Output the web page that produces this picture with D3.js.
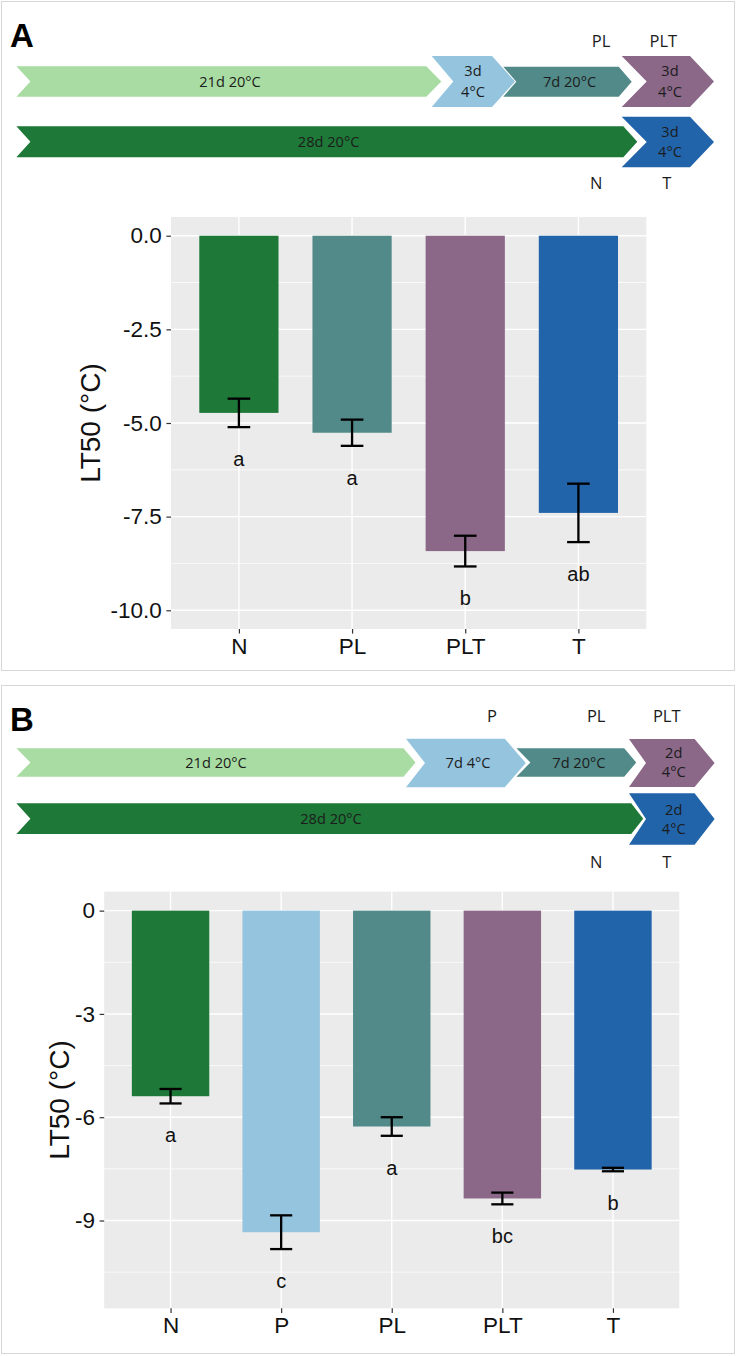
<!DOCTYPE html>
<html>
<head>
<meta charset="utf-8">
<script src="https://cdn.jsdelivr.net/npm/d3@7"></script>
<style>
  html, body { margin: 0; padding: 0; background: #fff; }
  svg { display: block; }
</style>
</head>
<body>
<svg id="fig" width="736" height="1356"></svg>
<script>
// ---- Data -----------------------------------------------------------
// Experiment A: treatments, mean LT50 (°C), standard error, group letters
const categoriesA = ["N", "PL", "PLT", "T"];
const lt50A = [-4.73, -5.26, -8.42, -7.40];
const seA = [0.38, 0.35, 0.41, 0.78];
const lettersA = ["a", "a", "b", "ab"];
const yTicksA = [0, -2.5, -5, -7.5, -10];
const yTickLabelsA = ["0.0", "-2.5", "-5.0", "-7.5", "-10.0"];
const yDomainA = [-10, 0];

// Experiment B
const categoriesB = ["N", "P", "PL", "PLT", "T"];
const lt50B = [-5.39, -9.34, -6.27, -8.36, -7.52];
const seB = [0.21, 0.49, 0.27, 0.17, 0.05];
const lettersB = ["a", "c", "a", "bc", "b"];
const yTicksB = [0, -3, -6, -9];
const yTickLabelsB = ["0", "-3", "-6", "-9"];
const yDomainB = [-11, 0];

// Treatment colours
const treatmentColor = {
  N: "#1E7837", P: "#94C4DE", PL: "#518A89", PLT: "#8B6788", T: "#2164AA"
};
const preGrowColor = "#A8DCA2";

// Timeline steps (text inside each chevron; "|" breaks a line)
const timelineA_row1 = ["21d 20°C", "3d|4°C", "7d 20°C", "3d|4°C"];
const timelineA_row2 = ["28d 20°C", "3d|4°C"];
const timelineB_row1 = ["21d 20°C", "7d 4°C", "7d 20°C", "2d|4°C"];
const timelineB_row2 = ["28d 20°C", "2d|4°C"];

// ---- Drawing --------------------------------------------------------
const svg = d3.select("#fig");
const AX_FONT = "'Liberation Sans', Arial, sans-serif";
const DIAG_FONT = "'Open Sans', 'Noto Sans', sans-serif";

// panel frames
svg.append("rect").attr("x", 1.5).attr("y", 1.5).attr("width", 733).attr("height", 669)
  .attr("fill", "none").attr("stroke", "#d6d6d6").attr("stroke-width", 1);
svg.append("rect").attr("x", 1.5).attr("y", 685.5).attr("width", 733).attr("height", 668)
  .attr("fill", "none").attr("stroke", "#d6d6d6").attr("stroke-width", 1);

function chevron(g, x0, x1, yc, h, depth, notch, fill, text, tx, ty, lineGap) {
  const t = yc - h / 2, b = yc + h / 2;
  const pts = [[x0, t], [x1 - depth, t], [x1, yc], [x1 - depth, b], [x0, b], [x0 + notch, yc]];
  g.append("path").attr("d", d3.line()(pts) + "Z").attr("fill", fill);
  const lines = text.split("|");
  const gap = lineGap || 20.5;
  lines.forEach((ln, i) => {
    g.append("text")
      .attr("x", tx)
      .attr("y", ty + (i - (lines.length - 1) / 2) * gap)
      .attr("dy", "0.35em")
      .attr("text-anchor", "middle")
      .attr("font-family", DIAG_FONT)
      .attr("font-size", 14.6)
      .attr("fill", "#1c1c1c")
      .text(ln);
  });
}

function diagLabel(g, x, y, s) {
  g.append("text").attr("x", x).attr("y", y).attr("dy", "0.35em")
    .attr("text-anchor", "middle").attr("font-family", DIAG_FONT)
    .attr("font-size", 16.5).attr("fill", "#1c1c1c").text(s);
}

function panelLetter(x, y, s) {
  svg.append("text").attr("x", x).attr("y", y)
    .attr("font-family", AX_FONT).attr("font-weight", "bold")
    .attr("font-size", 33).attr("fill", "#000").text(s);
}

// ---- Timeline A ----
const gA = svg.append("g");
panelLetter(10, 47, "A");
chevron(gA, 16.4, 441.3, 81.5, 30.7, 15, 14, preGrowColor, timelineA_row1[0], 230, 81.5);
chevron(gA, 431.7, 515, 81.5, 51, 23, 21.6, treatmentColor.P, timelineA_row1[1], 473, 81.3);
chevron(gA, 503.3, 631.7, 81.7, 30, 13, 13, treatmentColor.PL, timelineA_row1[2], 569.5, 81.5);
chevron(gA, 621.7, 714, 81.5, 51, 24, 25, treatmentColor.PLT, timelineA_row1[3], 670, 81.3);
chevron(gA, 16.4, 637.3, 141.7, 31, 14, 14, treatmentColor.N, timelineA_row2[0], 328.6, 141.7);
chevron(gA, 621.7, 714, 142, 50.6, 24, 25, treatmentColor.T, timelineA_row2[1], 670, 141.7);
diagLabel(gA, 601, 41.7, "PL");
diagLabel(gA, 663.4, 41.7, "PLT");
diagLabel(gA, 596.2, 183.3, "N");
diagLabel(gA, 666.7, 183.3, "T");

// ---- Timeline B ----
const gB = svg.append("g");
panelLetter(10, 731, "B");
chevron(gB, 16.4, 415.5, 762.5, 28.4, 12, 14, preGrowColor, timelineB_row1[0], 216, 763);
chevron(gB, 406, 525.8, 763, 48.3, 21, 19, treatmentColor.P, timelineB_row1[1], 468, 763);
chevron(gB, 516.4, 636.2, 762.5, 28.4, 12, 14, treatmentColor.PL, timelineB_row1[2], 578.9, 763);
chevron(gB, 629, 714.6, 763, 48, 20, 17, treatmentColor.PLT, timelineB_row1[3], 673.7, 762.5, 18.4);
chevron(gB, 16.4, 643.2, 818.7, 30.7, 12, 14, treatmentColor.N, timelineB_row2[0], 331, 819.3);
chevron(gB, 629, 714.6, 819, 51.7, 20, 17, treatmentColor.T, timelineB_row2[1], 673.7, 819.2, 18.4);
diagLabel(gB, 492, 716.7, "P");
diagLabel(gB, 596.2, 716.7, "PL");
diagLabel(gB, 666.7, 716.7, "PLT");
diagLabel(gB, 596.2, 862.7, "N");
diagLabel(gB, 666.7, 862.7, "T");

// ---- Bar chart (ggplot-like) ----
function barChart(opt) {
  const { left, right, top, bottom, cats, vals, errs, letters, ticks, tickLabels, domain, titleX, titleY } = opt;
  const g = svg.append("g");
  const span = domain[1] - domain[0];
  const y = d3.scaleLinear()
    .domain([domain[0] - 0.05 * span, domain[1] + 0.05 * span])
    .range([bottom, top]);
  const x = d3.scalePoint().domain(cats).range([left, right]).padding(0.6);
  const step = x.step();
  const barW = 0.7 * step;
  const capW = 0.2 * step;

  // panel background
  g.append("rect").attr("x", left).attr("y", top)
    .attr("width", right - left).attr("height", bottom - top).attr("fill", "#EBEBEB");

  // minor gridlines at midpoints between major ticks
  const sorted = ticks.slice().sort((a, b) => a - b);
  const minor = [];
  for (let i = 0; i < sorted.length - 1; i++) minor.push((sorted[i] + sorted[i + 1]) / 2);
  const d = sorted[1] - sorted[0];
  if (sorted[0] - d / 2 >= y.domain()[0]) minor.push(sorted[0] - d / 2);
  g.selectAll(".minor").data(minor).join("line")
    .attr("x1", left).attr("x2", right)
    .attr("y1", v => y(v)).attr("y2", v => y(v))
    .attr("stroke", "#fff").attr("stroke-width", 0.7);

  // major gridlines
  g.selectAll(".major").data(ticks).join("line")
    .attr("x1", left).attr("x2", right)
    .attr("y1", v => y(v)).attr("y2", v => y(v))
    .attr("stroke", "#fff").attr("stroke-width", 1.4);
  g.selectAll(".vgrid").data(cats).join("line")
    .attr("x1", c => x(c)).attr("x2", c => x(c))
    .attr("y1", top).attr("y2", bottom)
    .attr("stroke", "#fff").attr("stroke-width", 1.4);

  // bars
  g.selectAll(".bar").data(cats).join("rect")
    .attr("x", c => x(c) - barW / 2)
    .attr("y", y(0))
    .attr("width", barW)
    .attr("height", (c, i) => y(vals[i]) - y(0))
    .attr("fill", c => treatmentColor[c]);

  // error bars
  cats.forEach((c, i) => {
    const cx = x(c), hi = y(vals[i] + errs[i]), lo = y(vals[i] - errs[i]);
    const eg = g.append("g").attr("stroke", "#000").attr("stroke-width", 2.3).attr("fill", "none");
    eg.append("line").attr("x1", cx).attr("x2", cx).attr("y1", hi).attr("y2", lo);
    eg.append("line").attr("x1", cx - capW / 2).attr("x2", cx + capW / 2).attr("y1", hi).attr("y2", hi);
    eg.append("line").attr("x1", cx - capW / 2).attr("x2", cx + capW / 2).attr("y1", lo).attr("y2", lo);
    // significance letter below the error bar
    g.append("text")
      .attr("x", cx).attr("y", lo + 39)
      .attr("text-anchor", "middle")
      .attr("font-family", AX_FONT).attr("font-size", 20).attr("fill", "#111")
      .text(letters[i]);
  });

  // y axis
  const yAxis = d3.axisLeft(y).tickValues(ticks)
    .tickFormat((v, i) => tickLabels[i]).tickSize(4.6).tickPadding(4.6);
  const ya = g.append("g").attr("transform", `translate(${left},0)`).call(yAxis);
  ya.select(".domain").remove();
  ya.selectAll(".tick line").attr("stroke", "#333").attr("stroke-width", 1.2);
  ya.selectAll(".tick text").attr("font-family", AX_FONT).attr("font-size", 22.5).attr("fill", "#111");

  // x axis
  const xAxis = d3.axisBottom(x).tickSize(4.6).tickPadding(4);
  const xa = g.append("g").attr("transform", `translate(0,${bottom})`).call(xAxis);
  xa.select(".domain").remove();
  xa.selectAll(".tick line").attr("stroke", "#333").attr("stroke-width", 1.2);
  xa.selectAll(".tick text").attr("font-family", AX_FONT).attr("font-size", 22.5).attr("fill", "#111");

  // y title
  g.append("text")
    .attr("transform", `translate(${titleX},${titleY}) rotate(-90)`)
    .attr("text-anchor", "middle").attr("dy", "0.35em")
    .attr("font-family", AX_FONT).attr("font-size", 28).attr("fill", "#111")
    .text("LT50 (°C)");
}

barChart({
  left: 171, right: 646.3, top: 217, bottom: 629,
  cats: categoriesA, vals: lt50A, errs: seA, letters: lettersA,
  ticks: yTicksA, tickLabels: yTickLabelsA, domain: yDomainA,
  titleX: 90, titleY: 423
});

barChart({
  left: 104.2, right: 679.3, top: 891.7, bottom: 1308.3,
  cats: categoriesB, vals: lt50B, errs: seB, letters: lettersB,
  ticks: yTicksB, tickLabels: yTickLabelsB, domain: yDomainB,
  titleX: 59, titleY: 1100
});
</script>
</body>
</html>
